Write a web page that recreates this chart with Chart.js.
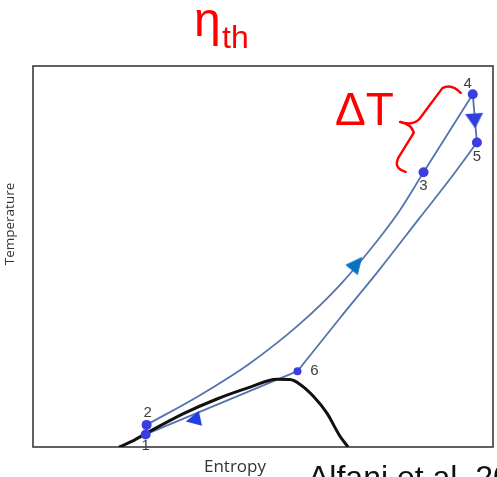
<!DOCTYPE html>
<html><head><meta charset="utf-8">
<script src="https://cdn.jsdelivr.net/npm/chart.js@4.4.1/dist/chart.umd.min.js"></script>
<style>html,body{margin:0;padding:0;background:#fff;} #wrap{width:497px;height:477px;}</style>
</head><body>
<div id="wrap"><canvas id="c" width="497" height="477"></canvas></div>
<script>
// ---- data (entropy s, temperature T, arbitrary units) ----
const stateLabels = ['1', '2', '3', '4', '5', '6'];
const stateS = [2.45, 2.47, 8.49, 9.56, 9.65, 5.75];
const stateT = [0.33, 0.58, 7.21, 9.26, 7.99, 1.99];

const heatS = [2.47, 3.63, 4.72, 5.80, 6.67, 7.54, 7.98, 8.49, 9.56];
const heatT = [0.58, 1.36, 2.20, 3.23, 4.25, 5.50, 6.22, 7.21, 9.26];

const expS = [5.75, 6.67, 7.54, 8.41, 9.07, 9.65];
const expT = [1.99, 3.38, 4.67, 6.02, 7.04, 7.99];

const domeS = [1.87, 2.17, 2.48, 3.26, 4.00, 4.72, 5.30, 5.59, 5.80, 6.09, 6.39, 6.67, 6.85];
const domeT = [0.00, 0.16, 0.37, 0.87, 1.26, 1.57, 1.78, 1.77, 1.65, 1.34, 0.89, 0.29, 0.00];

const arrowS = [7.04, 9.60, 3.48];
const arrowT = [4.82, 8.56, 0.71];
const arrowAngle = [39, 176, 258];

// brace annotation knots (data units)
const braceS = [9.30, 9.10, 8.90, 8.40, 8.26, 7.98, 8.22, 8.28, 7.95, 7.82, 8.10];
const braceT = [9.29, 9.55, 9.42, 8.61, 8.43, 8.53, 8.48, 8.25, 7.61, 7.32, 7.22];

const xy = (S, T) => S.map((s, i) => ({x: s, y: T[i]}));
const seg = (a, b) => [{x: stateS[a], y: stateT[a]}, {x: stateS[b], y: stateT[b]}];

const lineCol = '#5574ad';
const labelOffsets = [[0, 11], [1, -12], [0, 14], [-5, -10], [0, 14], [17, 0]];

// arrowhead image, already turned to its direction (clockwise from "up")
function arrowHead(len, base, deg, color) {
  const S = 26, c = S / 2, r = deg * Math.PI / 180;
  const cv = document.createElement('canvas');
  cv.width = S; cv.height = S;
  const g = cv.getContext('2d');
  const pts = [[0, -len / 2], [base / 2, len / 2], [-base / 2, len / 2]].map(([x, y]) =>
    [c + x * Math.cos(r) - y * Math.sin(r), c + x * Math.sin(r) + y * Math.cos(r)]);
  g.fillStyle = color;
  g.beginPath();
  g.moveTo(...pts[0]); g.lineTo(...pts[1]); g.lineTo(...pts[2]);
  g.closePath();
  g.fill();
  return cv;
}
const arrowStyles = [
  arrowHead(17, 16, arrowAngle[0], '#0a70c0'),
  arrowHead(15, 18, arrowAngle[1], '#2c3fd9'),
  arrowHead(15, 15, arrowAngle[2], '#2140e3')
];

const framePlugin = {
  id: 'frame',
  beforeDatasetsDraw(chart) {
    const {ctx, chartArea: a} = chart;
    ctx.save();
    ctx.strokeStyle = '#3a3a3a';
    ctx.lineWidth = 1.6;
    ctx.strokeRect(a.left, a.top, a.right - a.left, a.bottom - a.top);
    ctx.restore();
  }
};

const textPlugin = {
  id: 'texts',
  afterDraw(chart) {
    const {ctx} = chart;
    const xs = chart.scales.x, ys = chart.scales.y;
    ctx.save();
    // brace
    const P = i => [xs.getPixelForValue(braceS[i]), ys.getPixelForValue(braceT[i])];
    ctx.strokeStyle = '#ff0000';
    ctx.lineWidth = 2.4;
    ctx.lineJoin = 'round';
    ctx.lineCap = 'round';
    ctx.beginPath();
    ctx.moveTo(...P(0));
    ctx.quadraticCurveTo(...P(1), ...P(2));
    ctx.lineTo(...P(3));
    ctx.quadraticCurveTo(...P(4), ...P(5));
    ctx.quadraticCurveTo(...P(6), ...P(7));
    ctx.lineTo(...P(8));
    ctx.quadraticCurveTo(...P(9), ...P(10));
    ctx.stroke();

    // state labels
    ctx.fillStyle = '#404040';
    ctx.font = '15px "Liberation Sans", Arial, sans-serif';
    ctx.textAlign = 'center';
    ctx.textBaseline = 'middle';
    stateLabels.forEach((t, i) => {
      const px = xs.getPixelForValue(stateS[i]) + labelOffsets[i][0];
      const py = ys.getPixelForValue(stateT[i]) + labelOffsets[i][1];
      ctx.fillText(t, px, py);
    });

    // title eta_th
    ctx.fillStyle = '#ff0000';
    ctx.textAlign = 'left';
    ctx.textBaseline = 'alphabetic';
    ctx.font = '48px "Liberation Sans", Arial, sans-serif';
    ctx.fillText('η', 194, 36);
    ctx.font = '32px "Liberation Sans", Arial, sans-serif';
    ctx.fillText('th', 222, 48);
    // Delta T
    ctx.font = '46px "Liberation Sans", Arial, sans-serif';
    ctx.fillText('ΔT', 335, 125);

    // axis titles
    ctx.fillStyle = '#333333';
    ctx.font = '17px "Open Sans", sans-serif';
    ctx.textAlign = 'center';
    ctx.fillText('Entropy', 235, 472);
    ctx.save();
    ctx.translate(14, 224);
    ctx.rotate(-Math.PI / 2);
    ctx.font = '13.5px "Open Sans", sans-serif';
    ctx.fillText('Temperature', 0, 0);
    ctx.restore();

    // citation (cut off)
    ctx.fillStyle = '#111111';
    ctx.textAlign = 'left';
    ctx.font = '32px "Liberation Sans", Arial, sans-serif';
    ctx.fillText('Alfani et al. 2021', 308, 488);
    ctx.restore();
  }
};

new Chart(document.getElementById('c'), {
  type: 'scatter',
  data: {
    datasets: [
      {label: 'states', data: xy(stateS, stateT), showLine: false,
       pointRadius: [5, 5, 5, 5, 5, 4], pointBackgroundColor: '#3b3de0', pointBorderWidth: 0},
      {label: 'arrows', data: xy(arrowS, arrowT), showLine: false, pointStyle: arrowStyles,
       pointRotation: 0, pointRadius: 9, pointBorderWidth: 0},
      {label: 'dome', data: xy(domeS, domeT), showLine: true, pointRadius: 0,
       borderColor: '#111111', borderWidth: 3, cubicInterpolationMode: 'monotone'},
      {label: 'heat', data: xy(heatS, heatT), showLine: true, pointRadius: 0,
       borderColor: lineCol, borderWidth: 1.8, cubicInterpolationMode: 'monotone'},
      {label: 'exp', data: xy(expS, expT), showLine: true, pointRadius: 0,
       borderColor: lineCol, borderWidth: 1.8, cubicInterpolationMode: 'monotone'},
      {label: '1-2', data: seg(0, 1), showLine: true, pointRadius: 0, borderColor: lineCol, borderWidth: 1.8},
      {label: '4-5', data: seg(3, 4), showLine: true, pointRadius: 0, borderColor: lineCol, borderWidth: 1.8},
      {label: '6-1', data: seg(5, 0), showLine: true, pointRadius: 0, borderColor: lineCol, borderWidth: 1.8}
    ]
  },
  options: {
    responsive: false,
    animation: false,
    events: [],
    layout: {autoPadding: false, padding: {left: 33, top: 66, right: 4, bottom: 30}},
    plugins: {legend: {display: false}, tooltip: {enabled: false}, title: {display: false}},
    scales: {
      x: {type: 'linear', min: 0, max: 10, display: false},
      y: {type: 'linear', min: 0, max: 10, display: false}
    }
  },
  plugins: [framePlugin, textPlugin]
});
</script>
</body></html>
